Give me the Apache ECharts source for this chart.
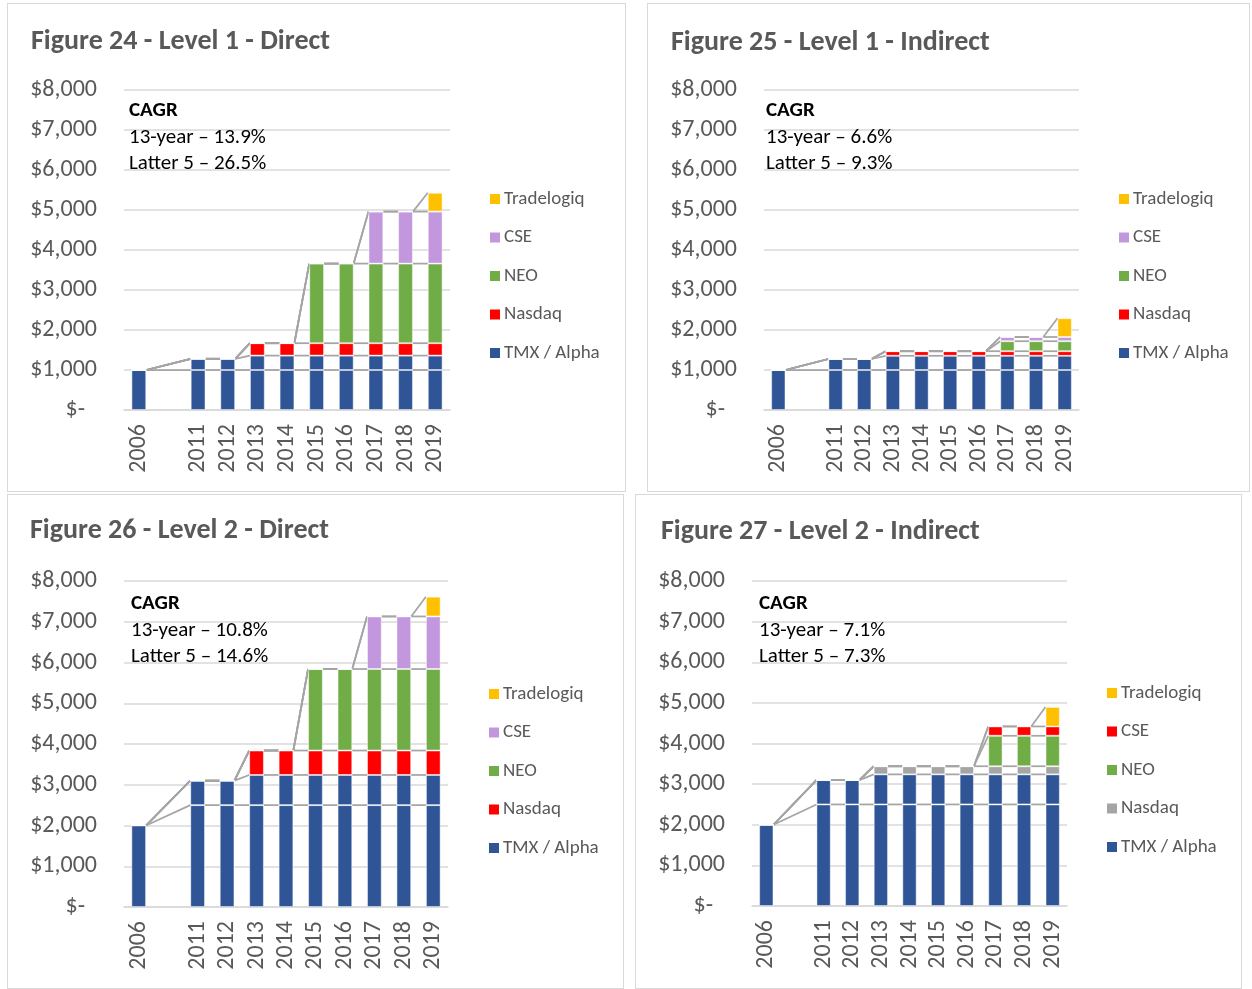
<!DOCTYPE html>
<html><head><meta charset="utf-8">
<script src="https://cdn.jsdelivr.net/npm/echarts@6/dist/echarts.min.js"></script>
<style>
body{margin:0;background:#fff;width:1252px;height:989px;position:relative;overflow:hidden}
.p{position:absolute;box-sizing:border-box;border:1px solid #d9d9d9;background:#fff}
</style></head><body>
<div id="c24" class="p" style="left:7px;top:3px;width:619px;height:489px"></div>
<div id="c25" class="p" style="left:647px;top:3px;width:603px;height:489px"></div>
<div id="c26" class="p" style="left:7px;top:494px;width:617px;height:495px"></div>
<div id="c27" class="p" style="left:635px;top:494px;width:607px;height:495px"></div>
<script>
// ---------- DATA ----------
const categories = ['2006', '', '2011', '2012', '2013', '2014', '2015', '2016', '2017', '2018', '2019'];
const yTicks = [0, 1000, 2000, 3000, 4000, 5000, 6000, 7000, 8000];
const legendOrder = ['Tradelogiq', 'CSE', 'NEO', 'Nasdaq', 'TMX / Alpha'];

// Figure 24 - Level 1 - Direct
const f24_tmx        = [1000, null, 1000, 1000, 1000, 1000, 1000, 1000, 1000, 1000, 1000];
const f24_alpha      = [0, null, 280, 280, 360, 360, 360, 360, 360, 360, 360];
const f24_nasdaq     = [0, null, 0, 0, 310, 310, 310, 310, 310, 310, 310];
const f24_neo        = [0, null, 0, 0, 0, 0, 1990, 1990, 1990, 1990, 1990];
const f24_cse        = [0, null, 0, 0, 0, 0, 0, 0, 1300, 1300, 1300];
const f24_tradelogiq = [0, null, 0, 0, 0, 0, 0, 0, 0, 0, 470];
const f24_cagr = ['CAGR', '13-year \u2013 13.9%', 'Latter 5 \u2013 26.5%'];

// Figure 25 - Level 1 - Indirect
const f25_tmx        = [1000, null, 1000, 1000, 1000, 1000, 1000, 1000, 1000, 1000, 1000];
const f25_alpha      = [0, null, 275, 275, 355, 355, 355, 355, 355, 355, 355];
const f25_nasdaq     = [0, null, 0, 0, 115, 115, 115, 115, 115, 115, 115];
const f25_neo        = [0, null, 0, 0, 0, 0, 0, 0, 250, 250, 250];
const f25_cse        = [0, null, 0, 0, 0, 0, 0, 0, 105, 105, 105];
const f25_tradelogiq = [0, null, 0, 0, 0, 0, 0, 0, 0, 0, 470];
const f25_cagr = ['CAGR', '13-year \u2013 6.6%', 'Latter 5 \u2013 9.3%'];

// Figure 26 - Level 2 - Direct
const f26_tmx        = [2000, null, 2500, 2500, 2500, 2500, 2500, 2500, 2500, 2500, 2500];
const f26_alpha      = [0, null, 600, 600, 740, 740, 740, 740, 740, 740, 740];
const f26_nasdaq     = [0, null, 0, 0, 600, 600, 600, 600, 600, 600, 600];
const f26_neo        = [0, null, 0, 0, 0, 0, 2000, 2000, 2000, 2000, 2000];
const f26_cse        = [0, null, 0, 0, 0, 0, 0, 0, 1290, 1290, 1290];
const f26_tradelogiq = [0, null, 0, 0, 0, 0, 0, 0, 0, 0, 485];
const f26_cagr = ['CAGR', '13-year \u2013 10.8%', 'Latter 5 \u2013 14.6%'];

// Figure 27 - Level 2 - Indirect
const f27_tmx        = [2000, null, 2500, 2500, 2500, 2500, 2500, 2500, 2500, 2500, 2500];
const f27_alpha      = [0, null, 600, 600, 740, 740, 740, 740, 740, 740, 740];
const f27_nasdaq     = [0, null, 0, 0, 200, 200, 200, 200, 200, 200, 200];
const f27_neo        = [0, null, 0, 0, 0, 0, 0, 0, 750, 750, 750];
const f27_cse        = [0, null, 0, 0, 0, 0, 0, 0, 230, 230, 230];
const f27_tradelogiq = [0, null, 0, 0, 0, 0, 0, 0, 0, 0, 480];
const f27_cagr = ['CAGR', '13-year \u2013 7.1%', 'Latter 5 \u2013 7.3%'];

// ---------- STYLE ----------
const FONT = 'Carlito, Lato, "Open Sans", sans-serif';
const C_BLUE = '#2f5597', C_RED = '#ff0000', C_GREEN = '#70ad47', C_PURPLE = '#c397de', C_YELLOW = '#ffc000', C_GRAY = '#a5a5a5';

function build(id, cfg) {
  const chart = echarts.init(document.getElementById(id), null, {renderer: 'canvas'});
  const stacks = cfg.stacks; // bottom -> top [{name, data, color}]
  const valid = [];
  categories.forEach((c, i) => { if (stacks[0].data[i] != null) valid.push(i); });
  const cum = stacks.map(() => []);
  categories.forEach((c, i) => {
    let s = 0;
    stacks.forEach((st, k) => { s += (st.data[i] || 0); cum[k][i] = s; });
  });
  const pairs = [];
  for (let q = 0; q + 1 < valid.length; q++) pairs.push([valid[q], valid[q + 1]]);

  const series = stacks.map(st => ({
    name: st.name, type: 'bar', stack: 'total', data: st.data, barWidth: '50%',
    itemStyle: {color: st.color, borderColor: 'rgba(255,255,255,0.45)', borderWidth: 1},
    emphasis: {disabled: true}, z: 3
  }));
  series.push({
    name: 'series lines', type: 'custom', data: pairs, z: 2, silent: true,
    renderItem: function (params, api) {
      const i = api.value(0), j = api.value(1);
      const half = api.size([1, 0])[0] * 0.25;
      const children = [];
      for (let k = 0; k < stacks.length; k++) {
        const a = api.coord([i, cum[k][i]]), b = api.coord([j, cum[k][j]]);
        children.push({type: 'line', shape: {x1: a[0] + half, y1: a[1], x2: b[0] - half, y2: b[1]},
          style: {stroke: C_GRAY, lineWidth: 1.75}});
      }
      return {type: 'group', children: children};
    }
  });

  const texts = cfg.cagr.map((t, n) => ({
    type: 'text', x: cfg.cagrPos[0], y: cfg.cagrPos[1] + n * 26.5, z: 10,
    style: {text: t, fill: '#000', font: (n === 0 ? 'bold ' : '') + '21px ' + FONT, verticalAlign: 'middle'}
  }));

  chart.setOption({
    animation: false,
    title: {text: cfg.title, left: cfg.titlePos[0], top: cfg.titlePos[1], padding: 0,
      textStyle: {fontFamily: FONT, fontSize: 28, fontWeight: 'bold', color: '#595959'}},
    legend: {data: legendOrder, orient: 'vertical', left: cfg.legendPos[0], top: cfg.legendPos[1], padding: 0,
      icon: 'rect', itemWidth: 10, itemHeight: 10, itemGap: 19.5, selectedMode: false,
      itemStyle: {borderWidth: 0},
      textStyle: {fontFamily: FONT, fontSize: 19, color: '#595959', lineHeight: 19, padding: [0, 0, 0, -1]}},
    grid: {left: cfg.grid[0], top: cfg.grid[1], width: cfg.grid[2], height: cfg.grid[3], containLabel: false},
    xAxis: {type: 'category', data: categories, boundaryGap: true,
      axisLine: {lineStyle: {color: '#d9d9d9', width: 1.5}}, axisTick: {show: false},
      axisLabel: {rotate: 90, margin: 14, interval: 0, fontFamily: FONT, fontSize: 24, color: '#595959'}},
    yAxis: {type: 'value', min: yTicks[0], max: yTicks[yTicks.length - 1], interval: yTicks[1] - yTicks[0],
      axisLine: {show: false}, axisTick: {show: false},
      splitLine: {lineStyle: {color: '#d9d9d9', width: 1.5}},
      axisLabel: {margin: 27, fontFamily: FONT, fontSize: 24, color: '#595959',
        formatter: v => v === 0 ? '{z|$-}' : '$' + v.toLocaleString('en-US'),
        rich: {z: {fontFamily: FONT, fontSize: 24, color: '#595959', padding: [0, 12, 0, 0]}}}},
    graphic: texts,
    series: series
  });
}

build('c24', {
  title: 'Figure 24 - Level 1 - Direct', titlePos: [23, 24], legendPos: [482, 185.5],
  grid: [116, 86, 326, 320], cagr: f24_cagr, cagrPos: [121, 107],
  stacks: [
    {name: 'TMX / Alpha', data: f24_tmx, color: C_BLUE},
    {name: 'TMX / Alpha', data: f24_alpha, color: C_BLUE},
    {name: 'Nasdaq', data: f24_nasdaq, color: C_RED},
    {name: 'NEO', data: f24_neo, color: C_GREEN},
    {name: 'CSE', data: f24_cse, color: C_PURPLE},
    {name: 'Tradelogiq', data: f24_tradelogiq, color: C_YELLOW}]
});
build('c25', {
  title: 'Figure 25 - Level 1 - Indirect', titlePos: [23, 25], legendPos: [471, 185.5],
  grid: [116, 86, 315, 320], cagr: f25_cagr, cagrPos: [118, 107],
  stacks: [
    {name: 'TMX / Alpha', data: f25_tmx, color: C_BLUE},
    {name: 'TMX / Alpha', data: f25_alpha, color: C_BLUE},
    {name: 'Nasdaq', data: f25_nasdaq, color: C_RED},
    {name: 'NEO', data: f25_neo, color: C_GREEN},
    {name: 'CSE', data: f25_cse, color: C_PURPLE},
    {name: 'Tradelogiq', data: f25_tradelogiq, color: C_YELLOW}]
});
build('c26', {
  title: 'Figure 26 - Level 2 - Direct', titlePos: [22, 22], legendPos: [481, 189.5],
  grid: [116, 86, 324, 326], cagr: f26_cagr, cagrPos: [123, 109],
  stacks: [
    {name: 'TMX / Alpha', data: f26_tmx, color: C_BLUE},
    {name: 'TMX / Alpha', data: f26_alpha, color: C_BLUE},
    {name: 'Nasdaq', data: f26_nasdaq, color: C_RED},
    {name: 'NEO', data: f26_neo, color: C_GREEN},
    {name: 'CSE', data: f26_cse, color: C_PURPLE},
    {name: 'Tradelogiq', data: f26_tradelogiq, color: C_YELLOW}]
});
build('c27', {
  title: 'Figure 27 - Level 2 - Indirect', titlePos: [25, 23], legendPos: [471, 188.5],
  grid: [116, 86, 315, 325], cagr: f27_cagr, cagrPos: [123, 109],
  stacks: [
    {name: 'TMX / Alpha', data: f27_tmx, color: C_BLUE},
    {name: 'TMX / Alpha', data: f27_alpha, color: C_BLUE},
    {name: 'Nasdaq', data: f27_nasdaq, color: C_GRAY},
    {name: 'NEO', data: f27_neo, color: C_GREEN},
    {name: 'CSE', data: f27_cse, color: C_RED},
    {name: 'Tradelogiq', data: f27_tradelogiq, color: C_YELLOW}]
});
</script>
</body></html>
